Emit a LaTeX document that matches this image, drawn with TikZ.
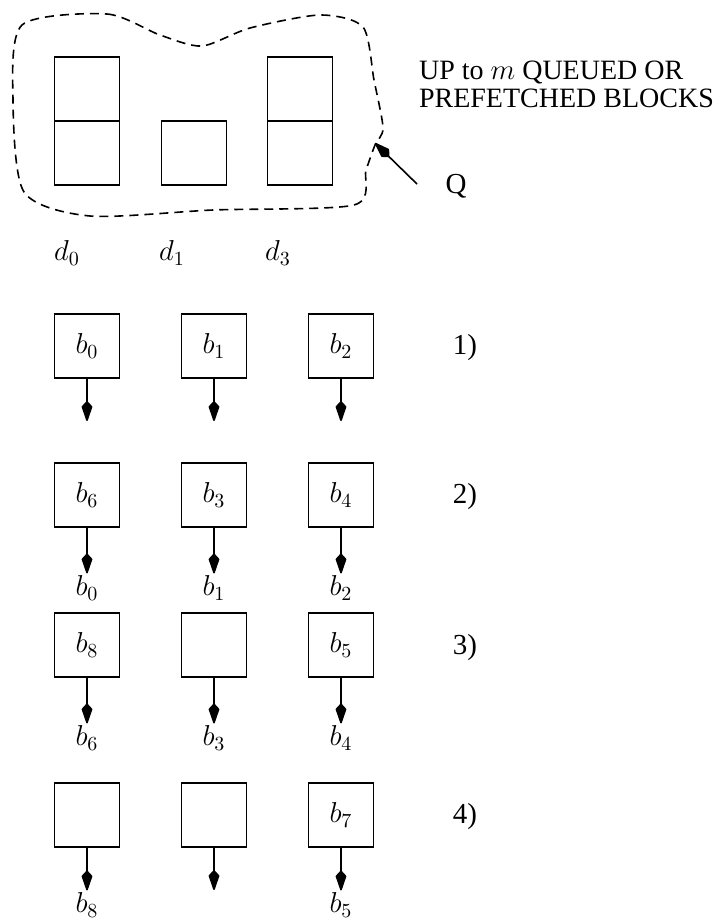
\documentclass[tikz,border=0pt]{standalone}
\usepackage{amsmath,amssymb}
\usepackage{fontspec}
\setmainfont{Liberation Serif}
\usetikzlibrary{arrows.meta}

\begin{document}
\begin{tikzpicture}[x=0.5pt, y=-0.5pt, every node/.style={font=\fontsize{14.5}{16}\selectfont},
	>={Kite[length=11pt, width=5.5pt, inset=3pt, round]},
	blk/.style={draw, thick, minimum width=32.5pt, minimum height=32pt, inner sep=0pt},
	cell/.style={draw, thick, minimum width=32.5pt, minimum height=32pt, inner sep=0pt},
	outarrow/.style={->, thick}]
	\useasboundingbox (0,0) rectangle (716,922);
	% queue of blocks
	\node[blk] (q0a) at (87,89) {};
	\node[blk] (q0b) at (87,153) {};
	\node[blk] (q1b) at (194,153) {};
	\node[blk] (q3a) at (300,89) {};
	\node[blk] (q3b) at (300,153) {};
	\draw[dash pattern=on 4.5pt off 3pt, thick] plot[smooth cycle, tension=0.45] coordinates {
		(22,25) (107,14) (160,35) (202,46) (250,28) (320,15) (363,27) (374,80) (383,128) (375,145)
		(366,170) (354,205) (213,210) (90,216) (24,192) (13,100)};
	\node[anchor=west, align=left, font=\fontsize{14}{14}\selectfont] (cap) at (412,84)
		{UP to $m$ QUEUED OR\\PREFETCHED BLOCKS};
	\node (Q) at (456,186) {Q};
	\coordinate (qtail) at (417,184);
	\coordinate (qtip) at (375,143);
	\draw[->, thick] (qtail) -- (qtip);
	\node (d0) at (67,253) {$d_0$};
	\node (d1) at (172,253) {$d_1$};
	\node (d3) at (278,253) {$d_3$};
	% step 1
	\node[cell] (s1a) at (87,346) {$b_0$};
	\node[cell] (s1b) at (214,346) {$b_1$};
	\node[cell] (s1c) at (341,346) {$b_2$};
	\node (n1) at (465,348) {1)};
	\foreach \c/\x in {a/87,b/214,c/341} {
		\coordinate (e1\c) at (\x,421);
		\draw[outarrow] (s1\c) -- (e1\c);
	}
	% step 2
	\node[cell] (s2a) at (87,495) {$b_6$};
	\node[cell] (s2b) at (214,495) {$b_3$};
	\node[cell] (s2c) at (341,495) {$b_4$};
	\node (n2) at (465,497) {2)};
	\node[inner sep=1pt] (o2a) at (87,588) {$b_0$};
	\node[inner sep=1pt] (o2b) at (214,588) {$b_1$};
	\node[inner sep=1pt] (o2c) at (341,588) {$b_2$};
	\foreach \c in {a,b,c}
		\draw[outarrow] (s2\c) -- (o2\c);
	% step 3
	\node[cell] (s3a) at (87,645) {$b_8$};
	\node[cell] (s3b) at (214,645) {};
	\node[cell] (s3c) at (341,645) {$b_5$};
	\node (n3) at (465,648) {3)};
	\node[inner sep=1pt] (o3a) at (87,738) {$b_6$};
	\node[inner sep=1pt] (o3b) at (214,738) {$b_3$};
	\node[inner sep=1pt] (o3c) at (341,738) {$b_4$};
	\foreach \c in {a,b,c}
		\draw[outarrow] (s3\c) -- (o3\c);
	% step 4
	\node[cell] (s4a) at (87,815) {};
	\node[cell] (s4b) at (214,815) {};
	\node[cell] (s4c) at (341,815) {$b_7$};
	\node (n4) at (465,817) {4)};
	\node[inner sep=1pt] (o4a) at (87,905) {$b_8$};
	\coordinate (o4b) at (214,890);
	\node[inner sep=1pt] (o4c) at (341,905) {$b_5$};
	\foreach \c in {a,b,c}
		\draw[outarrow] (s4\c) -- (o4\c);
\end{tikzpicture}
\end{document}
